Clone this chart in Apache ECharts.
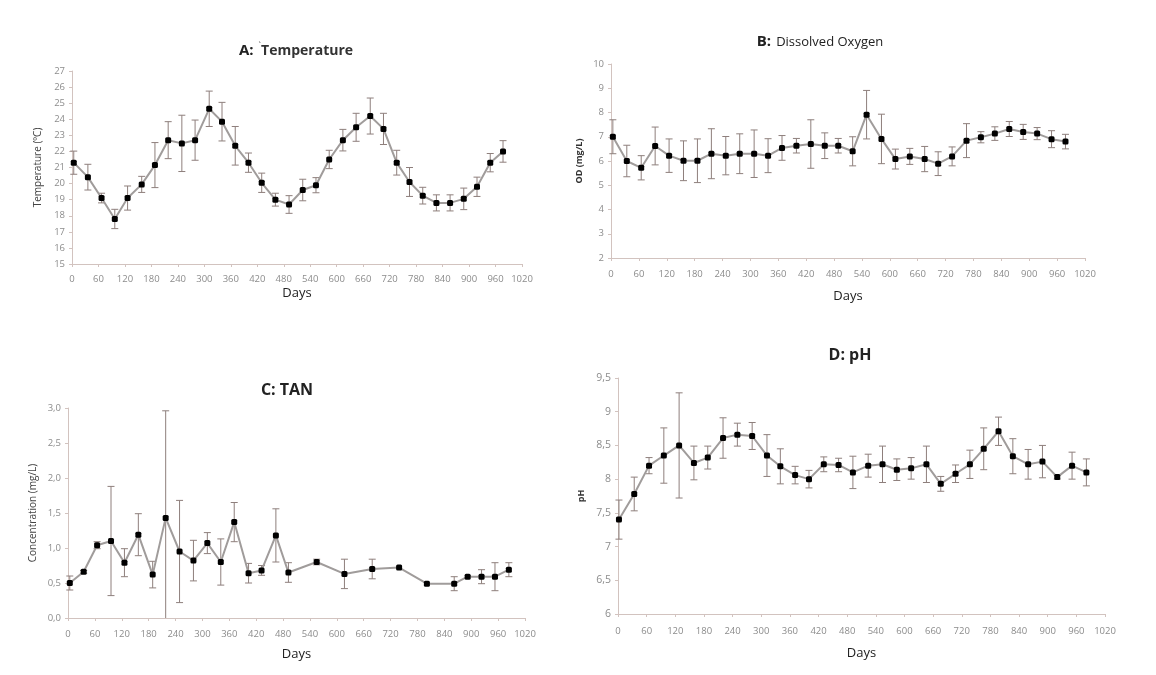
<!DOCTYPE html>
<html>
<head>
<meta charset="utf-8">
<script src="https://cdn.jsdelivr.net/npm/echarts@6/dist/echarts.min.js"></script>
<style>
html,body{margin:0;padding:0;background:#ffffff;}
#chart{width:1156px;height:675px;}
</style>
</head>
<body>
<div id="chart"></div>
<script>
// ---- Data ----
const xTicks = [0,60,120,180,240,300,360,420,480,540,600,660,720,780,840,900,960,1020];

// A: Temperature
const daysA = [4,36,67,97,126,158,188,218,249,279,311,340,370,400,430,461,492,523,553,583,614,644,676,706,736,765,795,826,857,888,918,948,977];
const tempMean = [21.3,20.4,19.1,17.8,19.1,19.95,21.15,22.7,22.5,22.7,24.65,23.85,22.35,21.3,20.05,19.0,18.7,19.6,19.9,21.5,22.7,23.5,24.2,23.4,21.3,20.1,19.25,18.8,18.8,19.05,19.8,21.3,22.0];
const tempSD = [0.72,0.8,0.3,0.6,0.75,0.5,1.4,1.15,1.75,1.25,1.1,1.2,1.2,0.6,0.6,0.4,0.55,0.67,0.47,0.57,0.67,0.87,1.12,0.97,0.77,0.9,0.52,0.5,0.5,0.67,0.6,0.57,0.67];

// B: Dissolved Oxygen
const daysB = [4,34,65,95,125,156,186,216,247,277,308,338,368,399,430,460,489,520,550,582,612,643,675,704,734,765,796,826,857,887,917,948,978];
const doMean = [7.0,6.0,5.72,6.62,6.22,6.01,6.01,6.3,6.22,6.3,6.3,6.22,6.54,6.63,6.7,6.63,6.63,6.4,7.91,6.91,6.08,6.19,6.08,5.89,6.19,6.84,6.98,7.13,7.32,7.2,7.13,6.9,6.8];
const doSD = [0.7,0.65,0.5,0.78,0.69,0.82,0.9,1.03,0.79,0.82,0.98,0.7,0.51,0.3,1.0,0.53,0.3,0.6,1.0,1.02,0.41,0.33,0.52,0.49,0.39,0.7,0.23,0.28,0.31,0.31,0.25,0.35,0.3];

// C: TAN
const daysC = [4,35,65,96,126,157,189,218,249,280,311,341,371,403,432,464,492,555,617,679,739,801,862,892,923,953,984];
const tanMean = [0.5,0.66,1.04,1.1,0.79,1.19,0.62,1.43,0.95,0.82,1.07,0.8,1.37,0.64,0.68,1.18,0.65,0.8,0.63,0.7,0.72,0.49,0.49,0.59,0.59,0.59,0.69];
const tanSD = [0.1,0.02,0.05,0.78,0.2,0.3,0.19,1.53,0.73,0.29,0.15,0.33,0.28,0.14,0.07,0.38,0.14,0.04,0.21,0.14,0,0,0.1,0,0.1,0.2,0.1];

// D: pH
const daysD = [2,34,65,96,128,159,188,220,250,281,312,340,371,400,431,462,492,524,554,584,614,646,676,707,737,766,797,827,859,889,920,951,981];
const phMean = [7.4,7.78,8.2,8.35,8.5,8.24,8.32,8.61,8.66,8.64,8.35,8.19,8.06,8.0,8.22,8.21,8.1,8.2,8.22,8.14,8.16,8.22,7.93,8.08,8.22,8.45,8.71,8.34,8.22,8.26,8.03,8.2,8.1];
const phSD = [0.29,0.25,0.12,0.41,0.78,0.25,0.17,0.3,0.17,0.2,0.31,0.26,0.13,0.13,0.11,0.1,0.24,0.17,0.27,0.16,0.16,0.27,0.11,0.13,0.21,0.31,0.21,0.26,0.22,0.24,0.03,0.2,0.2];

// ---- Styles ----
const FONT = '"Open Sans", "Noto Sans", sans-serif';
const AXIS_COL = '#d2c3bf';
const LABEL_COL = '#8c8c8c';
const LINE_COL = '#a09c9b';
const ERR_COL = '#8e7f7c';

const grids = [
  {left:72,  top:71,  width:450, height:193},
  {left:611, top:64,  width:474, height:194},
  {left:68,  top:408, width:457, height:210},
  {left:618, top:378, width:487, height:236}
];

function xAxisFor(i, margin, nameGap){
  return {
    gridIndex:i, type:'value', min:xTicks[0], max:xTicks[xTicks.length-1], interval:xTicks[1]-xTicks[0],
    name:'Days', nameLocation:'middle', nameGap:nameGap,
    nameTextStyle:{fontFamily:FONT, fontSize:13, color:'#222'},
    axisLine:{lineStyle:{color:AXIS_COL, width:1}},
    axisTick:{show:true, length:3, lineStyle:{color:AXIS_COL}},
    axisLabel:{color:LABEL_COL, fontFamily:FONT, fontSize:9.5, margin:margin, formatter: v => String(v)},
    splitLine:{show:false}
  };
}
function yAxisFor(i, min, max, interval, name, nameGap, nameStyle, fmt, fs){
  return {
    gridIndex:i, type:'value', min:min, max:max, interval:interval,
    name:name, nameLocation:'middle', nameGap:nameGap, nameRotate:90,
    nameTextStyle:nameStyle,
    axisLine:{show:true, lineStyle:{color:AXIS_COL, width:1}},
    axisTick:{show:true, length:3, lineStyle:{color:AXIS_COL}},
    axisLabel:{color:LABEL_COL, fontFamily:FONT, fontSize:fs||9.5, margin:7, formatter:fmt || (v => String(v))},
    splitLine:{show:false}
  };
}

function lineSeries(i, days, mean){
  return {
    type:'line', xAxisIndex:i, yAxisIndex:i, z:3,
    data: days.map((d,k)=>[d, mean[k]]),
    symbol:'roundRect', symbolSize:6, showSymbol:true,
    itemStyle:{color:'#000'},
    lineStyle:{color:LINE_COL, width:2},
    emphasis:{disabled:true}
  };
}
function errSeries(i, days, mean, sd, floor){
  return {
    type:'custom', xAxisIndex:i, yAxisIndex:i, z:2,
    data: days.map((d,k)=>[d, mean[k]-sd[k], mean[k]+sd[k], sd[k]]),
    encode:{x:0, y:[1,2]},
    renderItem:function(params, api){
      if (api.value(3) <= 0) return null;
      const x = api.value(0);
      let lowV = api.value(1);
      const clipped = lowV < floor;
      if (clipped) lowV = floor;
      const hi = api.coord([x, api.value(2)]);
      const lo = api.coord([x, lowV]);
      const w = 3.5;
      const st = {stroke:ERR_COL, lineWidth:1};
      const ch = [
        {type:'line', shape:{x1:hi[0], y1:hi[1], x2:lo[0], y2:lo[1]}, style:st},
        {type:'line', shape:{x1:hi[0]-w, y1:hi[1], x2:hi[0]+w, y2:hi[1]}, style:st}
      ];
      if (!clipped) ch.push({type:'line', shape:{x1:lo[0]-w, y1:lo[1], x2:lo[0]+w, y2:lo[1]}, style:st});
      return {type:'group', children:ch};
    }
  };
}

const comma1 = v => v.toFixed(1).replace('.', ',');
const commaAuto = v => String(v).replace('.', ',');

const option = {
  animation:false,
  backgroundColor:'#ffffff',
  title:[
    {text:'{b|A:} {s|`}{n|Temperature}', left:291, top:37, textAlign:'center',
     textStyle:{rich:{
       b:{fontFamily:FONT, fontWeight:'bold', fontSize:15, color:'#222'},
       s:{fontFamily:FONT, fontWeight:'normal', fontSize:9, color:'#555', verticalAlign:'top'},
       n:{fontFamily:FONT, fontWeight:'bold', fontSize:14, color:'#333'}}}},
    {text:'{b|B:} {n|Dissolved Oxygen}', left:815, top:28, textAlign:'center',
     textStyle:{rich:{
       b:{fontFamily:FONT, fontWeight:'bold', fontSize:15, color:'#222'},
       n:{fontFamily:FONT, fontWeight:'normal', fontSize:13, color:'#222'}}}},
    {text:'C: TAN', left:282, top:377, textAlign:'center',
     textStyle:{fontFamily:FONT, fontWeight:'bold', fontSize:16, color:'#222'}},
    {text:'D: pH', left:845, top:342, textAlign:'center',
     textStyle:{fontFamily:FONT, fontWeight:'bold', fontSize:16, color:'#222'}}
  ],
  grid: grids,
  xAxis:[
    xAxisFor(0, 10, 23),
    xAxisFor(1, 11, 32),
    xAxisFor(2, 11, 30),
    xAxisFor(3, 12, 33)
  ],
  yAxis:[
    yAxisFor(0, 15, 27, 1, 'Temperature (ºC)', 29, {fontFamily:FONT, fontSize:10, color:'#444'}),
    yAxisFor(1, 2, 10, 1, 'OD (mg/L)', 27, {fontFamily:FONT, fontSize:9, fontWeight:'bold', color:'#333'}),
    yAxisFor(2, 0, 3, 0.5, 'Concentration (mg/L)', 30, {fontFamily:FONT, fontSize:10, color:'#444'}, comma1),
    yAxisFor(3, 6, 9.5, 0.5, 'pH', 32, {fontFamily:FONT, fontSize:9, fontWeight:'bold', color:'#333'}, commaAuto, 10.5)
  ],
  series:[
    errSeries(0, daysA, tempMean, tempSD, 15), lineSeries(0, daysA, tempMean),
    errSeries(1, daysB, doMean, doSD, 2),      lineSeries(1, daysB, doMean),
    errSeries(2, daysC, tanMean, tanSD, 0),    lineSeries(2, daysC, tanMean),
    errSeries(3, daysD, phMean, phSD, 6),      lineSeries(3, daysD, phMean)
  ]
};

const chart = echarts.init(document.getElementById('chart'), null, {renderer:'canvas'});
chart.setOption(option);
</script>
</body>
</html>
